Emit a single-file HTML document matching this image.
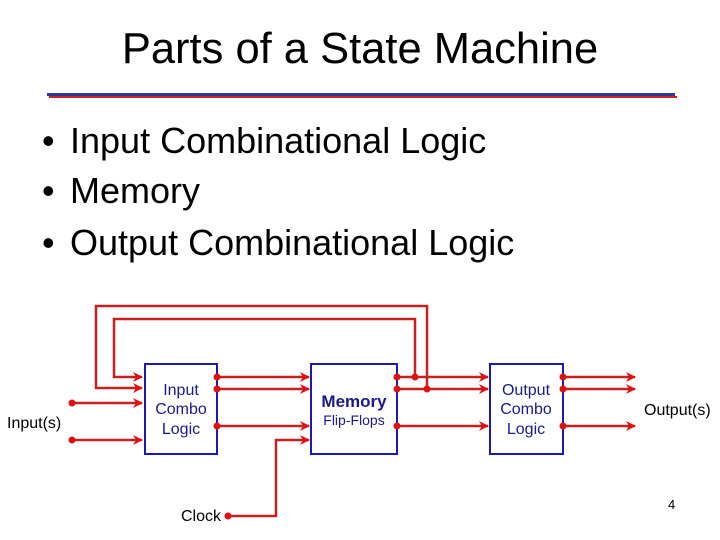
<!DOCTYPE html>
<html><head><style>
body{margin:0;width:720px;height:540px;background:#fff;overflow:hidden;font-family:"Liberation Sans",sans-serif}
</style></head><body>
<svg width="720" height="540" xmlns="http://www.w3.org/2000/svg" style="position:absolute;left:0;top:0">
<defs>
<marker id="a" markerWidth="10" markerHeight="10" refX="9" refY="5" orient="auto" markerUnits="userSpaceOnUse"><path d="M0,0 L10,5 L0,10 L3,5 Z" fill="#e01010"/></marker>
</defs>
<text x="360" y="63" font-size="43.5" text-anchor="middle" fill="#000">Parts of a State Machine</text>
<rect x="47" y="93" width="628" height="3" fill="#2a3a9a"/>
<rect x="49" y="96" width="628" height="2" fill="#d02020"/>
<g font-size="36" fill="#000">
<text x="42" y="153">•</text><text x="70" y="153">Input Combinational Logic</text>
<text x="42" y="203">•</text><text x="70" y="203">Memory</text>
<text x="42" y="255">•</text><text x="70" y="255">Output Combinational Logic</text>
</g>
<g stroke="#c82020" stroke-width="2.5" fill="none">
<polyline points="427,389 427,306 96,306 96,388 142,388" marker-end="url(#a)"/>
<polyline points="415,377 415,319 114,319 114,377 142,377" marker-end="url(#a)"/>
<line x1="72" y1="403" x2="142" y2="403" marker-end="url(#a)"/>
<line x1="72" y1="440" x2="142" y2="440" marker-end="url(#a)"/>
<line x1="217" y1="377" x2="309" y2="377" marker-end="url(#a)"/>
<line x1="217" y1="389" x2="309" y2="389" marker-end="url(#a)"/>
<line x1="217" y1="426" x2="309" y2="426" marker-end="url(#a)"/>
<polyline points="228,516 276,516 276,440 309,440" marker-end="url(#a)"/>
<line x1="397" y1="377" x2="488" y2="377" marker-end="url(#a)"/>
<line x1="397" y1="389" x2="488" y2="389" marker-end="url(#a)"/>
<line x1="397" y1="426" x2="488" y2="426" marker-end="url(#a)"/>
<line x1="563" y1="377" x2="635" y2="377" marker-end="url(#a)"/>
<line x1="563" y1="389" x2="635" y2="389" marker-end="url(#a)"/>
<line x1="563" y1="426" x2="635" y2="426" marker-end="url(#a)"/>
</g>
<g fill="none" stroke="#1a1ab0" stroke-width="2">
<rect x="145" y="364" width="72" height="90"/>
<rect x="311" y="364" width="86" height="90"/>
<rect x="490" y="364" width="73" height="90"/>
</g>
<g fill="#e01010">
<circle cx="72" cy="403" r="3.5"/><circle cx="72" cy="440" r="3.5"/>
<circle cx="217" cy="377" r="3.5"/><circle cx="217" cy="389" r="3.5"/><circle cx="217" cy="426" r="3.5"/>
<circle cx="397" cy="377" r="3.5"/><circle cx="397" cy="389" r="3.5"/><circle cx="397" cy="426" r="3.5"/>
<circle cx="415" cy="377" r="3.5"/><circle cx="427" cy="389" r="3.5"/>
<circle cx="563" cy="377" r="3.5"/><circle cx="563" cy="389" r="3.5"/><circle cx="563" cy="426" r="3.5"/>
<circle cx="228" cy="516" r="3.5"/>
</g>
<g font-size="16" fill="#1a1a8a" text-anchor="middle">
<text x="181" y="395">Input</text><text x="181" y="414">Combo</text><text x="181" y="434">Logic</text>
<text x="526" y="395">Output</text><text x="526" y="414">Combo</text><text x="526" y="434">Logic</text>
<text x="354" y="407" font-weight="bold" font-size="17">Memory</text>
<text x="354" y="425" font-size="14">Flip-Flops</text>
</g>
<g font-size="16" fill="#000">
<text x="7" y="428">Input(s)</text>
<text x="644" y="415">Output(s)</text>
<text x="181" y="521">Clock</text>
<text x="668" y="509" font-size="13">4</text>
</g>
</svg>
</body></html>
